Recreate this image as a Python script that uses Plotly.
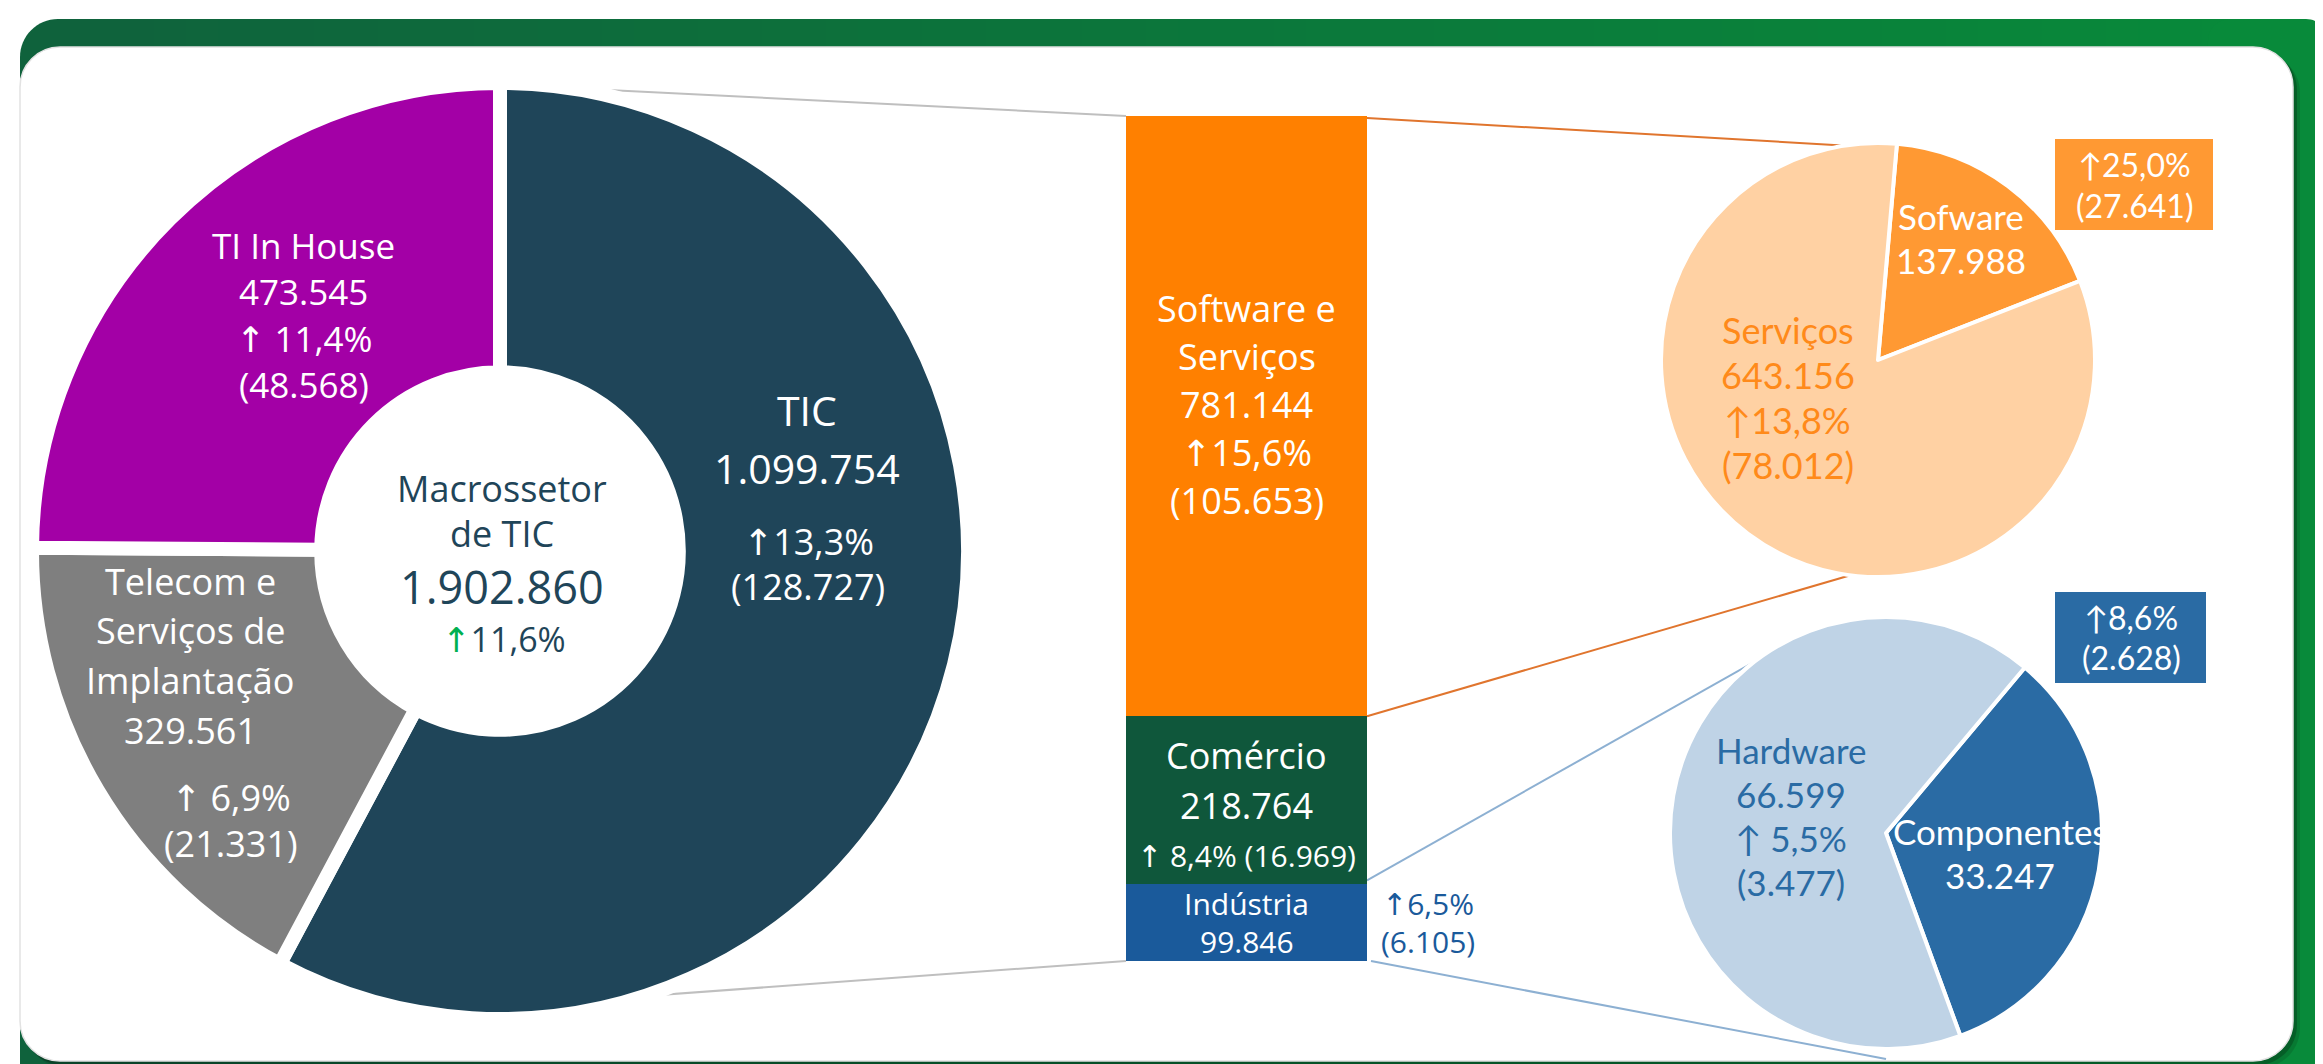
import math
import plotly.graph_objects as go

W, H = 2323, 1064

# ---------------- data ----------------
macro_title = ["Macrossetor", "de TIC"]
macro_total = 1902860
macro_growth_pct = 11.6

donut_labels = ["TIC", "Telecom e<br>Serviços de<br>Implantação", "TI In House"]
donut_values = [1099754, 329561, 473545]
donut_growth_pct = [13.3, 6.9, 11.4]
donut_growth_abs = [128727, 21331, 48568]

bar_labels = ["Indústria", "Comércio", "Software e<br>Serviços"]
bar_values = [99846, 218764, 781144]
bar_growth_pct = [6.5, 8.4, 15.6]
bar_growth_abs = [6105, 16969, 105653]

sw_labels = ["Sofware", "Serviços"]
sw_values = [137988, 643156]
sw_growth_pct = [25.0, 13.8]
sw_growth_abs = [27641, 78012]

hw_labels = ["Componentes", "Hardware"]
hw_values = [33247, 66599]
hw_growth_pct = [8.6, 5.5]
hw_growth_abs = [2628, 3477]

# ---------------- styles ----------------
NAVY = "#1F4559"
PURPLE = "#A300A6"
GRAY = "#7F7F7F"
ORANGE_BAR = "#FF8000"
GREEN_BAR = "#0F573B"
BLUE_BAR = "#1A5A9B"
SERV = "#FFD1A3"
SOFW = "#FF9933"
HW_LIGHT = "#BFD3E6"
COMP = "#2A6BA4"
SERV_TXT = "#FF8A1A"
SEG = "Open Sans, DejaVu Sans, sans-serif"
CAL = "Lato, DejaVu Sans, sans-serif"
UP = "\u2191"
WH = "white"


def fnum(v):
    return f"{v:,}".replace(",", ".")


def fpct(p):
    return f"{p:.1f}".replace(".", ",") + "%"


def PX(x):
    return x / W


def PY(y):
    return 1 - y / H


def dom(cx, cy, r):
    return dict(x=[(cx - r) / W, (cx + r) / W], y=[1 - (cy + r) / H, 1 - (cy - r) / H])


def rrect(x0, y0, x1, y1, r):
    k = 0.5523 * r
    pts = [
        ("M", [(x0 + r, y0)]),
        ("L", [(x1 - r, y0)]),
        ("C", [(x1 - r + k, y0), (x1, y0 + r - k), (x1, y0 + r)]),
        ("L", [(x1, y1 - r)]),
        ("C", [(x1, y1 - r + k), (x1 - r + k, y1), (x1 - r, y1)]),
        ("L", [(x0 + r, y1)]),
        ("C", [(x0 + r - k, y1), (x0, y1 - r + k), (x0, y1 - r)]),
        ("L", [(x0, y0 + r)]),
        ("C", [(x0, y0 + r - k), (x0 + r - k, y0), (x0 + r, y0)]),
    ]
    s = ""
    for cmd, ps in pts:
        s += cmd + " ".join(f"{PX(x):.6f},{PY(y):.6f}" for x, y in ps) + " "
    return s + "Z"


shapes = []
ann = []


def txt(text, x, y, size, color, family=SEG):
    ann.append(dict(text=text, x=PX(x), y=PY(y), xref="paper", yref="paper",
                    showarrow=False, xanchor="center", yanchor="middle",
                    font=dict(size=size, color=color, family=family)))


def stack(lines, x, y_first, spacing, size, color, family=SEG):
    for i, s in enumerate(lines):
        txt(s, x, y_first + i * spacing, size, color, family)


def path(p, fill, line=None, lw=0):
    shapes.append(dict(type="path", path=p, xref="paper", yref="paper",
                       fillcolor=fill, line=dict(color=line or fill, width=lw), layer="below"))


def rect(x0, y0, x1, y1, fill):
    shapes.append(dict(type="rect", xref="paper", yref="paper", x0=PX(x0), x1=PX(x1),
                       y0=PY(y1), y1=PY(y0), fillcolor=fill, line=dict(width=0), layer="below"))


def line(x0, y0, x1, y1, color, w=2):
    shapes.append(dict(type="line", xref="paper", yref="paper", x0=PX(x0), y0=PY(y0),
                       x1=PX(x1), y1=PY(y1), line=dict(color=color, width=w), layer="below"))


# ---------------- frame ----------------
dark = (15, 98, 60)
light = (8, 138, 58)
path(rrect(12, 11, 2320, 1100, 38), "rgb(%d,%d,%d)" % dark)
N = 70
xa, xb = 50, 2290
for i in range(N):
    x0 = xa + (xb - xa) * i / N
    x1 = xa + (xb - xa) * (i + 1) / N + 1
    t = (i + 0.5) / N
    c = tuple(round(dark[j] + (light[j] - dark[j]) * t) for j in range(3))
    rect(x0, 11, x1, 1064, "rgb(%d,%d,%d)" % c)
path(rrect(2200, 11, 2320, 1100, 22), "rgb(%d,%d,%d)" % light)
path(rrect(18, 45, 2292, 1060, 40), "rgba(0,0,0,0.12)")
path(rrect(15, 42, 2289, 1057, 40), "rgba(0,0,0,0.22)")
path(rrect(12, 39, 2285, 1053, 40), "white", "#E2E2E2", 1.5)

# ---------------- geometry ----------------
DC = (492, 543, 461)       # donut centre / radius (px)
SW = (1870, 352, 215)
HW = (1878, 825, 214)
BAR_X0, BAR_X1, BAR_TOP, BAR_BOT = 1118, 1359, 108, 953
bar_total = sum(bar_values)


def ypx(v):
    return BAR_BOT - v / bar_total * (BAR_BOT - BAR_TOP)


def onc(c, ang, extra=0):
    a = math.radians(ang)
    return c[0] + (c[2] + extra) * math.sin(a), c[1] - (c[2] + extra) * math.cos(a)


bounds = [0]
for v in bar_values:
    bounds.append(bounds[-1] + v)
ypos = [ypx(b) for b in bounds]  # bottom..top boundaries in px

# connectors
p = onc(DC, 1.5)
line(p[0], p[1] - 5, BAR_X0, BAR_TOP, "#BFBFBF")
p = onc(DC, 183)
line(p[0], p[1] - 3, BAR_X0, BAR_BOT, "#BFBFBF")
p = onc(SW, -6)
line(BAR_X1, BAR_TOP + 2, p[0], p[1], "#E0752E")
p = onc(SW, 186)
line(BAR_X1, ypos[2], p[0], p[1], "#E0752E")
p = onc(HW, -27)
line(BAR_X1, ypos[1] - 4, p[0], p[1], "#8DB0D2")
p = onc(HW, 180, 12)
line(BAR_X1 + 4, BAR_BOT, p[0], p[1], "#8DB0D2")

# value boxes
rect(2047, 131, 2205, 222, SOFW)
rect(2047, 584, 2198, 675, COMP)

fig = go.Figure()

# donut
fig.add_trace(go.Pie(values=donut_values, labels=[l.replace("<br>", " ") for l in donut_labels],
                     hole=0.382, sort=False, direction="clockwise", rotation=0,
                     marker=dict(colors=[NAVY, GRAY, PURPLE], line=dict(color="white", width=14)),
                     textinfo="none", domain=dom(DC[0], DC[1], DC[2] + 7), showlegend=False))
# software & services pie
fig.add_trace(go.Pie(values=sw_values, labels=sw_labels, sort=False, direction="clockwise",
                     rotation=5, marker=dict(colors=[SOFW, SERV], line=dict(color="white", width=4)),
                     textinfo="none", domain=dom(SW[0], SW[1], SW[2] + 2), showlegend=False))
# industry pie
fig.add_trace(go.Pie(values=hw_values, labels=hw_labels, sort=False, direction="clockwise",
                     rotation=40, marker=dict(colors=[COMP, HW_LIGHT], line=dict(color="white", width=4)),
                     textinfo="none", domain=dom(HW[0], HW[1], HW[2] + 2), showlegend=False))
# stacked bar
for lab, v, c in zip(bar_labels, bar_values, [BLUE_BAR, GREEN_BAR, ORANGE_BAR]):
    fig.add_trace(go.Bar(x=[0], y=[v], width=[1], name=lab.replace("<br>", " "),
                         marker=dict(color=c, line=dict(width=0)), showlegend=False))

# ---------------- texts ----------------
# centre of donut
stack(macro_title, 494, 480, 45, 36, NAVY)
txt(fnum(macro_total), 494, 578, 45, NAVY)
txt(f"<span style='color:#00B050'>{UP}</span>{fpct(macro_growth_pct)}", 496, 631, 34, NAVY)

# TIC
stack([donut_labels[0], fnum(donut_values[0])], 799, 402, 58, 41, WH)
stack([f"{UP}{fpct(donut_growth_pct[0])}", f"({fnum(donut_growth_abs[0])})"], 800, 533, 45, 36, WH)

# Telecom
stack(donut_labels[1].split("<br>") + [fnum(donut_values[1])], 182, 573, 49.7, 36, WH)
stack([f"{UP} {fpct(donut_growth_pct[1])}", f"({fnum(donut_growth_abs[1])})"], 223, 790, 45, 36, WH)

# TI In House
stack([donut_labels[2], fnum(donut_values[2]), f"{UP} {fpct(donut_growth_pct[2])}",
       f"({fnum(donut_growth_abs[2])})"], 296, 237, 46.5, 35, WH)

# bar segments
bx = (BAR_X0 + BAR_X1) / 2
c_ind = (ypos[0] + ypos[1]) / 2
c_com = (ypos[1] + ypos[2]) / 2
c_sw = (ypos[2] + ypos[3]) / 2
stack(bar_labels[2].split("<br>") + [fnum(bar_values[2]), f"{UP}{fpct(bar_growth_pct[2])}",
                                     f"({fnum(bar_growth_abs[2])})"],
      bx, c_sw - 108, 48, 36, WH)
stack([bar_labels[1], fnum(bar_values[1])], bx, c_com - 45, 50, 36, WH)
txt(f"{UP} {fpct(bar_growth_pct[1])} ({fnum(bar_growth_abs[1])})", bx, c_com + 55, 30, WH)
stack([bar_labels[0], fnum(bar_values[0])], bx, c_ind - 19, 38, 30, WH)
stack([f"{UP}{fpct(bar_growth_pct[0])}", f"({fnum(bar_growth_abs[0])})"], 1420, c_ind - 19, 38, 30, BLUE_BAR)

# software & services pie
stack([sw_labels[0], fnum(sw_values[0])], 1953, 208, 44, 35, WH, CAL)
stack([sw_labels[1], fnum(sw_values[1]), f"{UP}{fpct(sw_growth_pct[1])}", f"({fnum(sw_growth_abs[1])})"],
      1780, 322, 45, 36, SERV_TXT, CAL)
stack([f"{UP}{fpct(sw_growth_pct[0])}", f"({fnum(sw_growth_abs[0])})"], 2126, 157, 40, 32, WH, CAL)

# industry pie
stack([hw_labels[1], fnum(hw_values[1]), f"{UP} {fpct(hw_growth_pct[1])}", f"({fnum(hw_growth_abs[1])})"],
      1783, 742, 44, 35, COMP, CAL)
stack([hw_labels[0], fnum(hw_values[0])], 1992, 823, 44, 35, WH, CAL)
stack([f"{UP}{fpct(hw_growth_pct[0])}", f"({fnum(hw_growth_abs[0])})"], 2123, 609, 40, 32, WH, CAL)

fig.update_layout(
    width=W, height=H, margin=dict(l=0, r=0, t=0, b=0),
    paper_bgcolor="white", plot_bgcolor="rgba(0,0,0,0)",
    barmode="stack", showlegend=False,
    xaxis=dict(domain=[BAR_X0 / W, BAR_X1 / W], range=[-0.5, 0.5], visible=False, fixedrange=True),
    yaxis=dict(domain=[1 - BAR_BOT / H, 1 - BAR_TOP / H], range=[0, bar_total], visible=False, fixedrange=True),
    shapes=shapes, annotations=ann,
)

fig.write_html("out.html")
